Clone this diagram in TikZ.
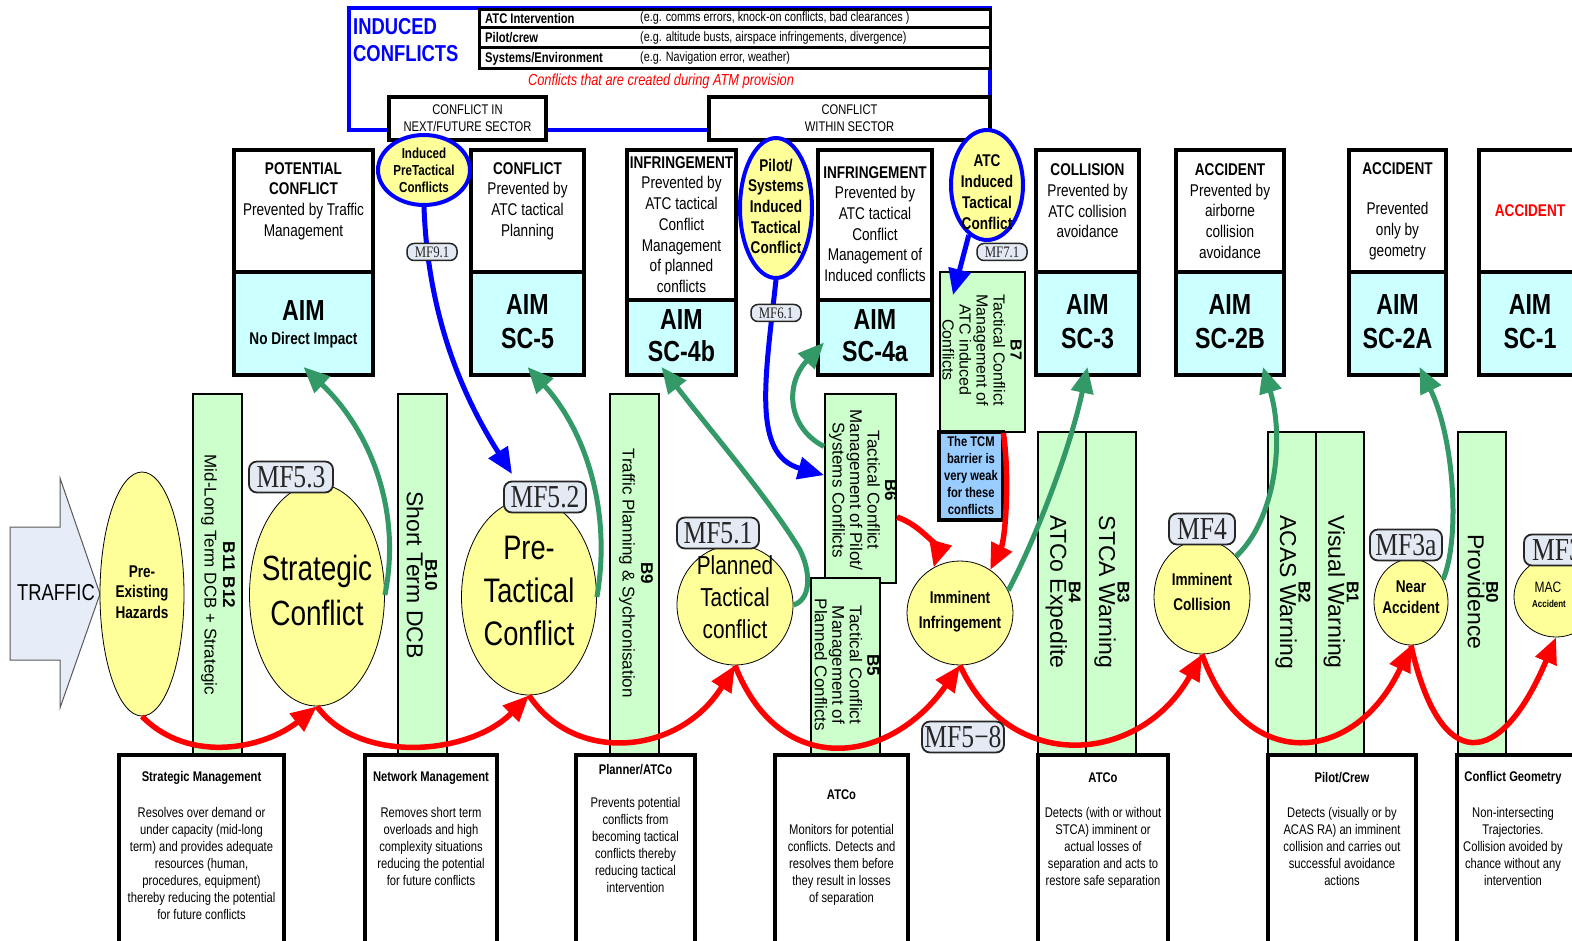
\documentclass[tikz,border=0pt]{standalone}
\usepackage{fontspec}
\setmainfont{Liberation Sans}[FakeStretch=0.8]
\newfontfamily\rotfont{Liberation Sans}
\newfontfamily\mffont{Liberation Serif}[FakeStretch=0.8]
\usetikzlibrary{shapes.geometric,arrows.meta,calc,fit}
\definecolor{yelfill}{HTML}{FFFF99}
\definecolor{cyanfill}{HTML}{CCFFFF}
\definecolor{barfill}{HTML}{CCFFCC}
\definecolor{arrgreen}{HTML}{339966}
\definecolor{tcmfill}{HTML}{99CCFF}
\definecolor{mffill}{HTML}{E4EAF4}
\definecolor{trafficfill}{HTML}{E6ECF8}
\newcommand\fsz[2]{\fontsize{#1}{#2}\selectfont}
\begin{document}
\begin{tikzpicture}[x=1pt,y=-1pt,
  hdr/.style={draw, line width=4pt, fill=white, inner sep=0pt},
  aimbox/.style={draw, line width=4pt, fill=cyanfill, inner sep=0pt},
  tabrow/.style={draw, line width=3pt, fill=white, inner sep=0pt},
  bar/.style={draw, line width=2pt, fill=barfill, inner sep=0pt},
  outbox/.style={draw, line width=4pt, fill=white, inner sep=0pt},
  txt/.style={inner sep=0pt, align=center},
  hdtxt/.style={txt, font=\fsz{17}{20.7}},
  aimtxt/.style={txt, font=\bfseries\fsz{29}{34}},
  bartxt/.style={txt, rotate=-90, font=\rotfont\fsz{17}{18.5}},
  conf/.style={ellipse, draw, line width=0.8pt, fill=yelfill, inner sep=0pt},
  induced/.style={ellipse, draw=blue, line width=4pt, fill=yelfill, inner sep=0pt},
  mfbig/.style={draw=black!85, line width=1.8pt, fill=mffill, rounded corners=8pt,
    inner sep=0pt, minimum height=31pt, text=black!85, font=\mffont\fsz{32}{32}},
  mfsmall/.style={draw=black!85, line width=1.5pt, fill=mffill, rounded corners=7pt,
    inner sep=0pt, minimum height=17pt, minimum width=50pt, text=black!85, font=\mffont\fsz{16}{16}},
  rtitle/.style={txt, font=\bfseries\fsz{14}{17}},
  rbody/.style={txt, font=\fsz{14}{17}},
  redarr/.style={draw=red, line width=5.5pt, -{Triangle[length=26pt,width=22pt]}},
  grnarr/.style={draw=arrgreen, line width=5pt, -{Triangle[length=26pt,width=22pt]}},
  bluarr/.style={draw=blue, line width=5pt, -{Triangle[length=26pt,width=22pt]}}]
\useasboundingbox (0,0) rectangle (1572,941);
\clip (0,0) rectangle (1572,941);
\fill[white] (0,0) rectangle (1572,941);

% ---------- induced conflicts frame ----------
\node[draw=blue, line width=3.5pt, inner sep=0pt, fit={(349,8)(990,130)}] (frame) {};
\node[txt, anchor=west, align=left, text=blue, font=\bfseries\fsz{23}{27}] (indt) at (353,40) {INDUCED\\CONFLICTS};
\node[tabrow, fit={(479,10)(990,28)}] (r1) {};
\node[tabrow, fit={(479,28)(990,48)}] (r2) {};
\node[tabrow, fit={(479,48)(990,69)}] (r3) {};
\node[txt, anchor=west, font=\bfseries\fsz{14}{14}] (r1a) at (485,18.5) {ATC Intervention};
\node[txt, anchor=west, font=\fsz{13.5}{14}] (r1b) at (640,18.5) {(e.g. comms errors, knock-on conflicts, bad clearances )};
\node[txt, anchor=west, font=\bfseries\fsz{14}{14}] (r2a) at (485,38) {Pilot/crew};
\node[txt, anchor=west, font=\fsz{13.5}{14}] (r2b) at (640,38) {(e.g. altitude busts, airspace infringements, divergence)};
\node[txt, anchor=west, font=\bfseries\fsz{14}{14}] (r3a) at (485,58.5) {Systems/Environment};
\node[txt, anchor=west, font=\fsz{13.5}{14}] (r3b) at (640,58.5) {(e.g. Navigation error, weather)};
\node[txt, text=red, font=\itshape\fsz{16}{16}] (atm) at (661,81) {Conflicts that are created during ATM provision};

\node[hdr, fit={(389,97)(546,140)}] (sec1) {};
\node[txt, font=\fsz{14}{17}] (sec1t) at (467.5,118.5) {CONFLICT IN\\NEXT/FUTURE SECTOR};
\node[hdr, fit={(709,97)(990,140)}] (sec2) {};
\node[txt, font=\fsz{14}{17}] (sec2t) at (849.5,118.5) {CONFLICT\\WITHIN SECTOR};

% ---------- severity columns ----------
\node[hdr, fit={(234,150)(373,272)}] (h1) {};
\node[aimbox, fit={(234,272)(373,375)}] (a1) {};
\node[hdr, fit={(471,150)(584,272)}] (h2) {};
\node[aimbox, fit={(471,272)(584,375)}] (a2) {};
\node[hdr, fit={(627,150)(736,300)}] (h3) {};
\node[aimbox, fit={(627,300)(736,375)}] (a3) {};
\node[hdr, fit={(818,150)(932,300)}] (h4) {};
\node[aimbox, fit={(818,300)(932,375)}] (a4) {};
\node[hdr, fit={(1036,150)(1139,272)}] (h5) {};
\node[aimbox, fit={(1036,272)(1139,375)}] (a5) {};
\node[hdr, fit={(1176,150)(1284,272)}] (h6) {};
\node[aimbox, fit={(1176,272)(1284,375)}] (a6) {};
\node[hdr, fit={(1349,150)(1446,272)}] (h7) {};
\node[aimbox, fit={(1349,272)(1446,375)}] (a7) {};
\node[hdr, fit={(1479,150)(1590,272)}] (h8) {};
\node[aimbox, fit={(1479,272)(1590,375)}] (a8) {};

\node[hdtxt] (h1t) at (303.5,201) {\textbf{POTENTIAL}\\\textbf{CONFLICT}\\Prevented by Traffic\\Management};
\node[aimtxt] (a1t) at (303.5,311) {AIM};
\node[txt, font=\bfseries\fsz{17}{17}] (a1s) at (303.5,340) {No Direct Impact};
\node[hdtxt] (h2t) at (527.5,201) {\textbf{CONFLICT}\\Prevented by\\ATC tactical\\Planning};
\node[aimtxt] (a2t) at (527.5,322) {AIM\\SC-5};
\node[hdtxt] (h3t) at (681.5,224.5) {\textbf{INFRINGEMENT}\\Prevented by\\ATC tactical\\Conflict\\Management\\of planned\\conflicts};
\node[aimtxt, font=\bfseries\fsz{29}{32}] (a3t) at (681.5,336) {AIM\\SC-4b};
\node[hdtxt] (h4t) at (875,224) {\textbf{INFRINGEMENT}\\Prevented by\\ATC tactical\\Conflict\\Management of\\Induced conflicts};
\node[aimtxt, font=\bfseries\fsz{29}{32}] (a4t) at (875,336) {AIM\\SC-4a};
\node[hdtxt] (h5t) at (1087.5,201) {\textbf{COLLISION}\\Prevented by\\ATC collision\\avoidance};
\node[aimtxt] (a5t) at (1087.5,322) {AIM\\SC-3};
\node[hdtxt] (h6t) at (1230,211) {\textbf{ACCIDENT}\\Prevented by\\airborne\\collision\\avoidance};
\node[aimtxt] (a6t) at (1230,322) {AIM\\SC-2B};
\node[hdtxt] (h7t) at (1397.5,211) {\textbf{ACCIDENT}\\[20pt]Prevented\\only by\\geometry};
\node[aimtxt] (a7t) at (1397.5,322) {AIM\\SC-2A};
\node[txt, text=red, font=\bfseries\fsz{17}{17}] (h8t) at (1530,211) {ACCIDENT};
\node[aimtxt] (a8t) at (1530,322) {AIM\\SC-1};

% ---------- barriers ----------
\node[bar, fit={(193,394)(242,755)}] (b11) {};
\node[bar, fit={(398,394)(447,755)}] (b10) {};
\node[bar, fit={(610,394)(659,755)}] (b9) {};
\node[bar, fit={(825,394)(896,583)}] (b6) {};
\node[bar, fit={(811,578)(880,755)}] (b5) {};
\node[bar, fit={(940,272)(1025,432)}] (b7) {};
\node[draw, line width=3.5pt, fill=tcmfill, inner sep=0pt, fit={(939,432)(1003,520)}] (tcm) {};
\node[bar, fit={(1038,432)(1086,755)}] (b4) {};
\node[bar, fit={(1086,432)(1136,755)}] (b3) {};
\node[bar, fit={(1268,432)(1316,755)}] (b2) {};
\node[bar, fit={(1316,432)(1364,755)}] (b1) {};
\node[bar, fit={(1458,432)(1506,755)}] (b0) {};

\node[bartxt] (b11t) at (218,575) {\textbf{B11 B12}\\Mid-Long Term DCB + Strategic};
\node[bartxt] (b10t) at (422,575) {\textbf{B10}\\{\fsz{23}{24}Short Term DCB}};
\node[bartxt] (b9t) at (636,573) {\textbf{B9}\\Traffic Planning \& Sychronisation};
\node[bartxt, font=\rotfont\fsz{17}{17.5}] (b6t) at (863,490) {\textbf{B6}\\Tactical Conflict\\Management of Pilot/\\Systems Conflicts};
\node[bartxt, font=\rotfont\fsz{17}{17.5}] (b5t) at (847,665) {\textbf{B5}\\Tactical Conflict\\Management of\\Planned Conflicts};
\node[bartxt, font=\rotfont\fsz{16}{17}] (b7t) at (982,350) {\textbf{B7}\\Tactical Conflict\\Management of\\ATC induced\\Conflicts};
\node[txt, font=\bfseries\fsz{14}{17}] (tcmt) at (971,475) {The TCM\\barrier is\\very weak\\for these\\conflicts};
\node[bartxt] (b4t) at (1063,592) {\textbf{B4}\\{\fsz{23}{24}ATCo Expedite}};
\node[bartxt] (b3t) at (1112,592) {\textbf{B3}\\{\fsz{23}{24}STCA Warning}};
\node[bartxt] (b2t) at (1293,592) {\textbf{B2}\\{\fsz{23}{24}ACAS Warning}};
\node[bartxt] (b1t) at (1341,592) {\textbf{B1}\\{\fsz{23}{24}Visual Warning}};
\node[bartxt] (b0t) at (1483,592) {\textbf{B0}\\{\fsz{23}{24}Providence}};

% ---------- responsible actors ----------
\node[outbox, fit={(119,755)(284,948)}] (o1) {};
\node[outbox, fit={(365,755)(497,948)}] (o2) {};
\node[outbox, fit={(576,755)(695,948)}] (o3) {};
\node[outbox, fit={(775,755)(908,948)}] (o4) {};
\node[outbox, fit={(1038,755)(1168,948)}] (o5) {};
\node[outbox, fit={(1268,755)(1416,948)}] (o6) {};
\node[outbox, fit={(1457,755)(1590,948)}] (o7) {};

\node[rtitle] (o1t) at (201.5,778) {Strategic Management};
\node[rbody, anchor=north] (o1b) at (201.5,807) {Resolves over demand or\\under capacity (mid-long\\term) and provides adequate\\resources (human,\\procedures, equipment)\\thereby reducing the potential\\for future conflicts};
\node[rtitle] (o2t) at (431,778) {Network Management};
\node[rbody, anchor=north] (o2b) at (431,807) {Removes short term\\overloads and high\\complexity situations\\reducing the potential\\for future conflicts};
\node[rtitle] (o3t) at (635.5,770) {Planner/ATCo};
\node[rbody, anchor=north] (o3b) at (635.5,797) {Prevents potential\\conflicts from\\becoming tactical\\conflicts thereby\\reducing tactical\\intervention};
\node[rtitle] (o4t) at (841.5,795) {ATCo};
\node[rbody, anchor=north] (o4b) at (841.5,824) {Monitors for potential\\conflicts. Detects and\\resolves them before\\they result in losses\\of separation};
\node[rtitle] (o5t) at (1103,778) {ATCo};
\node[rbody, anchor=north] (o5b) at (1103,807) {Detects (with or without\\STCA) imminent or\\actual losses of\\separation and acts to\\restore safe separation};
\node[rtitle] (o6t) at (1342,778) {Pilot/Crew};
\node[rbody, anchor=north] (o6b) at (1342,807) {Detects (visually or by\\ACAS RA) an imminent\\collision and carries out\\successful avoidance\\actions};
\node[rtitle] (o7t) at (1513,778) {Conflict Geometry};
\node[rbody, anchor=north] (o7b) at (1513,807) {Non-intersecting\\Trajectories.\\Collision avoided by\\chance without any\\intervention};

% ---------- traffic input ----------
\draw[draw=gray!70!black, line width=1pt, fill=trafficfill]
  (10,527) -- (60,527) -- (60,478) -- (100,594) -- (60,708) -- (60,660) -- (10,660) -- cycle;
\node[txt, font=\fsz{23}{23}] (traffic) at (56,593) {TRAFFIC};

% ---------- conflict states ----------
\node[conf, minimum width=84pt, minimum height=244pt] (haz) at (142,594) {};
\node[txt, font=\bfseries\fsz{17}{20.5}] (hazt) at (142,592) {Pre-\\Existing\\Hazards};
\node[conf, minimum width=135pt, minimum height=222pt] (strat) at (317,595) {};
\node[txt, font=\fsz{35}{45}] (stratt) at (317,590) {Strategic\\Conflict};
\node[conf, minimum width=135pt, minimum height=196pt] (pretac) at (529,597) {};
\node[txt, font=\fsz{34}{43}] (pretact) at (529,591) {Pre-\\Tactical\\Conflict};
\node[conf, minimum width=116pt, minimum height=120pt] (plan) at (735,605) {};
\node[txt, font=\fsz{26}{32}] (plant) at (735,597) {Planned\\Tactical\\conflict};
\node[conf, minimum width=106pt, minimum height=104pt] (immi) at (960,613) {};
\node[txt, font=\bfseries\fsz{17}{25}] (immit) at (960,612) {Imminent\\Infringement};
\node[conf, minimum width=96pt, minimum height=114pt] (coll) at (1202,597) {};
\node[txt, font=\bfseries\fsz{17}{25}] (collt) at (1202,592) {Imminent\\Collision};
\node[conf, minimum width=74pt, minimum height=86pt] (near) at (1411,602) {};
\node[txt, font=\bfseries\fsz{17}{21}] (neart) at (1411,597) {Near\\Accident};
\node[conf, minimum width=84pt, minimum height=80pt] (mac) at (1556,597) {};
\node[txt, font=\fsz{15}{15}] (mact) at (1548,587) {MAC};
\node[txt, font=\bfseries\fsz{10}{10}] (macs) at (1549,604) {Accident};

\node[induced, minimum width=92pt, minimum height=70pt] (ipt) at (424,170) {};
\node[txt, font=\bfseries\fsz{14.5}{17}] (iptt) at (424,170) {Induced\\PreTactical\\Conflicts};
\node[induced, minimum width=72pt, minimum height=140pt] (pst) at (776,208) {};
\node[txt, font=\bfseries\fsz{17}{20.7}] (pstt) at (776,206.5) {Pilot/\\Systems\\Induced\\Tactical\\Conflict};
\node[induced, minimum width=72pt, minimum height=110pt] (aic) at (987,185) {};
\node[txt, font=\bfseries\fsz{17}{21}] (aict) at (987,192.5) {ATC\\Induced\\Tactical\\Conflict};

% ---------- escalation path ----------
\draw[redarr] (haz.south) .. controls (190,765) and (265,748) .. (strat.south);
\draw[redarr] (strat.south) .. controls (360,765) and (470,755) .. (pretac.south);
\draw[redarr] (pretac.south) .. controls (575,765) and (680,755) .. (plan.south);
\draw[redarr] (plan.south) .. controls (780,780) and (890,765) .. (immi.south);
\draw[redarr] (immi.south) .. controls (1010,775) and (1140,765) .. (coll.south);
\draw[redarr] (coll.south) .. controls (1245,775) and (1355,765) .. (near.south);
\draw[redarr] (near.south) .. controls (1440,775) and (1500,770) .. (mac.south);
\draw[redarr] ($(b6.north east)!0.65!(b6.south east)$) .. controls (922,525) and (938,552) .. (immi.120);
\draw[redarr] ($(b7.south west)!0.74!(b7.south east)$) .. controls (1010,480) and (1005,540) .. (immi.55);

% ---------- barrier effect on severity ----------
\draw[grnarr] (strat.east) .. controls (402,510) and (370,430) .. ($(a1.south)+(0,-10)$);
\draw[grnarr] (pretac.east) .. controls (612,510) and (585,430) .. ($(a2.south)+(0,-10)$);
\draw[grnarr] (plan.east) .. controls (810,600) and (812,575) .. (800,550)
  .. controls (770,500) and (710,430) .. ($(a3.south)+(-20,-10)$);
\draw[grnarr] ($(b6.north west)!0.28!(b6.south west)$) .. controls (788,428) and (784,385) .. ($(a4.west)+(8,5)$);
\draw[grnarr] (immi.25) .. controls (1035,540) and (1070,450) .. ($(a5.south)+(0,-10)$);
\draw[grnarr] (coll.50) .. controls (1275,520) and (1285,440) .. ($(a6.south)+(33,-10)$);
\draw[grnarr] (near.35) .. controls (1460,540) and (1455,440) .. ($(a7.south)+(22,-10)$);

% ---------- induced conflict injections ----------
\coordinate (bt1) at (512,474);
\coordinate (bt3) at (953,295);
\draw[bluarr] (ipt.south) .. controls (428,320) and (465,400) .. (bt1);
\draw[bluarr] (pst.south) .. controls (765,380) and (752,455) .. ($(b6.north west)!0.43!(b6.south west)$);
\draw[bluarr] (aic.250) -- (bt3);

% ---------- mitigation failure labels ----------
\node[mfbig, minimum width=84pt] (mf53) at (291,477) {MF5.3};
\node[mfbig, minimum width=82pt] (mf52) at (545,497) {MF5.2};
\node[mfbig, minimum width=82pt] (mf51) at (718,533) {MF5.1};
\node[mfbig, minimum width=82pt] (mf58) at (963,737) {MF5−8};
\node[mfbig, minimum width=66pt] (mf4) at (1202,529) {MF4};
\node[mfbig, minimum width=72pt] (mf3a) at (1406,545) {MF3a};
\node[mfbig, minimum width=66pt] (mf3) at (1557,550) {MF3};
\node[mfsmall] (mf91) at (432,252) {MF9.1};
\node[mfsmall] (mf61) at (776,313) {MF6.1};
\node[mfsmall] (mf71) at (1002,252) {MF7.1};
\end{tikzpicture}
\end{document}
